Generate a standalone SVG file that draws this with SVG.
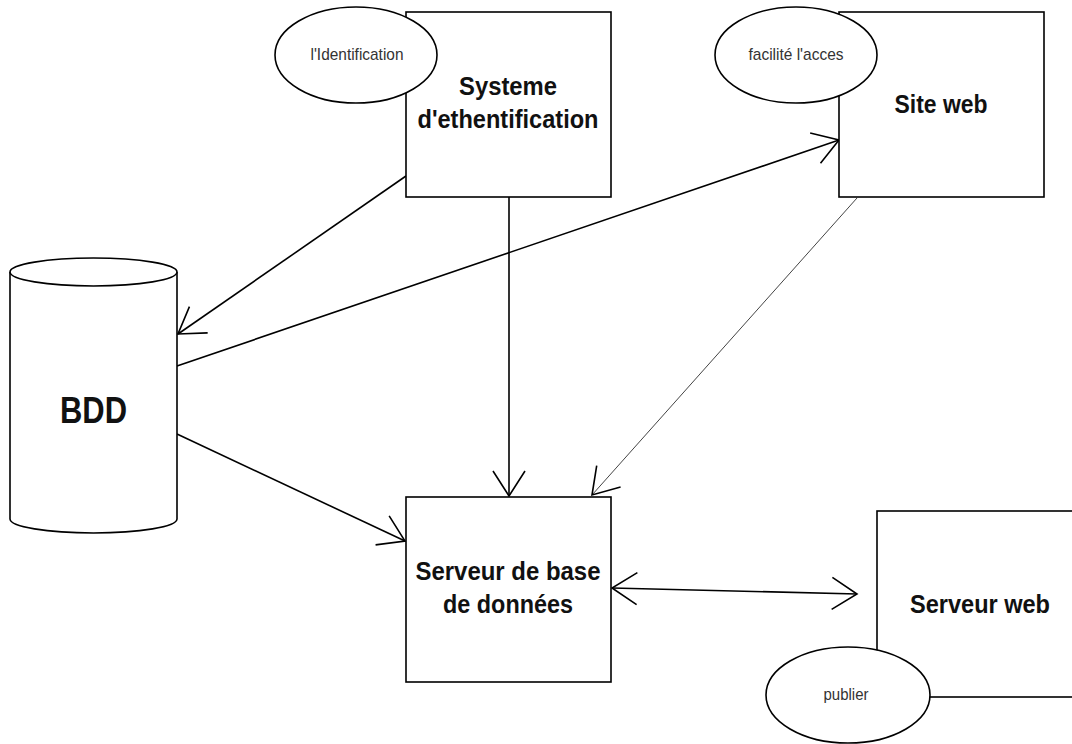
<svg xmlns="http://www.w3.org/2000/svg" width="1072" height="744" viewBox="0 0 1072 744">
<style>
.box{fill:#fff;stroke:#000;stroke-width:1.6}
.ell{fill:#fff;stroke:#000;stroke-width:1.6}
.big{font-family:"Liberation Sans",Arial,sans-serif;font-weight:bold;fill:#111;text-anchor:middle}
.small{font-family:"Liberation Sans",Arial,sans-serif;font-size:17px;fill:#333;text-anchor:middle}
.con{fill:none;stroke:#000;stroke-width:1.6}
.thin{fill:none;stroke:#444;stroke-width:1}
</style>
<defs>
<marker id="arr" markerUnits="userSpaceOnUse" viewBox="-30 -20 32 40" refX="0" refY="0" markerWidth="32" markerHeight="40" orient="auto-start-reverse">
<path d="M-25,-16 L0,0 L-25,16" fill="none" stroke="#000" stroke-width="1.6"/>
</marker>
<marker id="arrThin" markerUnits="userSpaceOnUse" viewBox="-30 -20 32 40" refX="0" refY="0" markerWidth="32" markerHeight="40" orient="auto">
<path d="M-25,-16 L0,0 L-25,16" fill="none" stroke="#000" stroke-width="1.6"/>
</marker>
</defs>
<rect width="1072" height="744" fill="#fff"/>
<g id="connectors">
<line class="con" x1="406" y1="176" x2="178" y2="334" marker-end="url(#arr)"/>
<line class="con" x1="177" y1="366" x2="839" y2="140" marker-end="url(#arr)"/>
<line class="con" x1="509" y1="197" x2="509" y2="496" marker-end="url(#arr)"/>
<line class="thin" x1="857" y1="198" x2="592" y2="495" marker-end="url(#arrThin)"/>
<line class="con" x1="177" y1="434" x2="405" y2="541" marker-end="url(#arr)"/>
<line class="con" x1="612" y1="588" x2="857" y2="594" marker-start="url(#arr)" marker-end="url(#arr)"/>
</g>
<g id="systeme">
<rect class="box" x="406" y="12" width="205" height="185"/>
<text class="big" x="508" y="95" font-size="25" textLength="98" lengthAdjust="spacingAndGlyphs">Systeme</text>
<text class="big" x="508" y="128" font-size="25" textLength="181" lengthAdjust="spacingAndGlyphs">d'ethentification</text>
</g>
<g id="identification">
<ellipse class="ell" cx="356" cy="55" rx="81" ry="48"/>
<text class="small" x="357" y="60" textLength="93" lengthAdjust="spacingAndGlyphs">l'Identification</text>
</g>
<g id="siteweb">
<rect class="box" x="839" y="12" width="205" height="185"/>
<text class="big" x="941" y="113" font-size="25" textLength="93" lengthAdjust="spacingAndGlyphs">Site web</text>
</g>
<g id="facilite">
<ellipse class="ell" cx="796" cy="55" rx="81" ry="48"/>
<text class="small" x="796" y="60" textLength="95" lengthAdjust="spacingAndGlyphs">facilité l'acces</text>
</g>
<g id="bdd">
<path class="box" d="M10,272 L10,519 A83.5,14 0 0 0 177,519 L177,272"/>
<ellipse class="ell" cx="93.5" cy="272" rx="83.5" ry="14"/>
<text class="big" x="93.5" y="423" font-size="36" textLength="67" lengthAdjust="spacingAndGlyphs">BDD</text>
</g>
<g id="serveurbd">
<rect class="box" x="406" y="497" width="205" height="185"/>
<text class="big" x="508" y="580" font-size="26" textLength="185" lengthAdjust="spacingAndGlyphs">Serveur de base</text>
<text class="big" x="508" y="613" font-size="26" textLength="130" lengthAdjust="spacingAndGlyphs">de données</text>
</g>
<g id="serveurweb">
<rect class="box" x="877" y="511" width="205" height="186"/>
<text class="big" x="980" y="613" font-size="26" textLength="140" lengthAdjust="spacingAndGlyphs">Serveur web</text>
</g>
<g id="publier">
<ellipse class="ell" cx="848" cy="695" rx="82" ry="48"/>
<text class="small" x="846" y="700" textLength="45" lengthAdjust="spacingAndGlyphs">publier</text>
</g>
</svg>
